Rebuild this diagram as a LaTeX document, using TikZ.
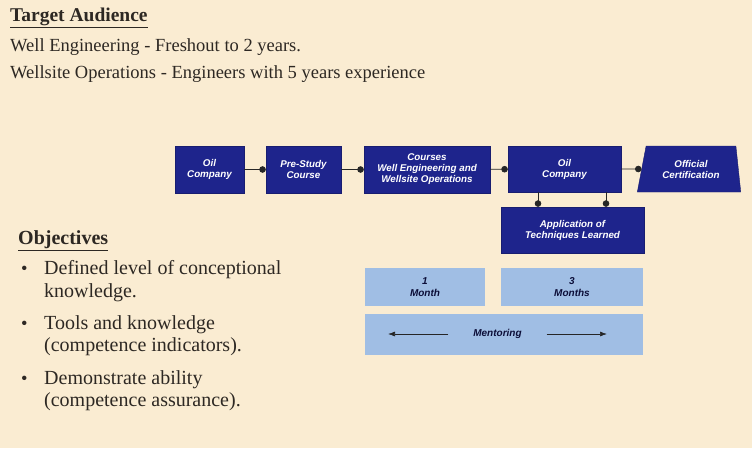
\documentclass[tikz,border=0pt]{standalone}
\usepackage{fontspec}
\setmainfont{Liberation Serif}
\newfontfamily\boxfont{Liberation Sans}
\usepackage{tikz}
\usetikzlibrary{shapes.geometric,arrows.meta}

\definecolor{cream}{RGB}{250,236,210}
\definecolor{navy}{RGB}{30,36,140}
\definecolor{paleblue}{RGB}{160,190,228}
\definecolor{textgray}{RGB}{45,40,35}

\begin{document}
\begin{tikzpicture}[x=1pt, y=-1pt,
    darkbox/.style={rectangle, fill=navy, draw=navy!80!black, text=white, align=center,
      font=\boxfont\bfseries\itshape\fontsize{9.8}{11}\selectfont, inner sep=1pt},
    lightbox/.style={rectangle, fill=paleblue, draw=none, text=navy!40!black, align=center,
      font=\boxfont\bfseries\itshape\fontsize{10}{11.5}\selectfont, inner sep=1pt},
    plain/.style={anchor=west, inner sep=0pt, text=textgray, font=\fontsize{18.5}{21}\selectfont},
    obtxt/.style={plain, font=\fontsize{20}{23}\selectfont},
    link/.style={draw=black!85, line width=0.7pt, -{Circle[length=6.5pt]}}]

    % sfondo
    \fill[cream] (0,0) rectangle (752,448);
    \useasboundingbox (0,0) rectangle (752,448);

    % Testo in alto
    \node[plain, font=\bfseries\fontsize{19.5}{21}\selectfont] (tgt) at (10,18) {\underline{Target Audience}};
    \node[plain] (we) at (10,47) {Well Engineering - Freshout to 2 years.};
    \node[plain] (wo) at (10,74) {Wellsite Operations - Engineers with 5 years experience};

    % Posizioni dei nodi
    \node[darkbox, minimum width=69, minimum height=47] (oil) at (209.5,169.5) {Oil\\Company};
    \node[darkbox, minimum width=75, minimum height=47] (pre) at (303.5,169.5) {Pre-Study\\Course};
    \node[darkbox, minimum width=126, minimum height=47] (crs) at (427,169.5) {Courses\\Well Engineering and\\Wellsite Operations};
    \node[darkbox, minimum width=113, minimum height=46] (oiltwo) at (564.5,169) {Oil\\Company};
    \node[darkbox, trapezium, trapezium stretches=true, trapezium left angle=74, trapezium right angle=81,
      minimum width=104, minimum height=46] (cert) at (691,169) {Official\\Certification};
    \node[darkbox, minimum width=143, minimum height=46] (app) at (572.5,230) {Application of\\Techniques Learned};

    \node[lightbox, minimum width=120, minimum height=38] (mone) at (425,287) {1\\Month};
    \node[lightbox, minimum width=142, minimum height=38] (mthree) at (572,287) {3\\Months};
    \node[lightbox, minimum width=278, minimum height=41] (ment) at (504,334.5) {};
    \node[lightbox, fill=none, minimum width=98] (mlbl) at (497.5,334) {Mentoring};
    \coordinate (lend) at (388,334);
    \coordinate (rend) at (607,334);

    % Archi
    \draw[link] (oil) -- (pre);
    \draw[link] (pre) -- (crs);
    \draw[link] (crs) -- (oiltwo);
    \draw[link] (oiltwo) -- (cert);
    \draw[link] (oiltwo.south -| 538,0) -- (app.north -| 538,0);
    \draw[link] (oiltwo.south -| 606,0) -- (app.north -| 606,0);
    \draw[draw=black!85, line width=0.7pt, -{Latex[length=7pt,width=5pt]}] (mlbl.west) -- (lend);
    \draw[draw=black!85, line width=0.7pt, -{Latex[length=7pt,width=5pt]}] (mlbl.east) -- (rend);

    % Obiettivi
    \node[obtxt, font=\bfseries\fontsize{20}{23}\selectfont] (obj) at (18,241) {\underline{Objectives}};
    \foreach \y in {270,325,380}
      \node[plain] at (21,\y) {\textbullet};
    \node[obtxt] (oa) at (44,270) {Defined level of conceptional};
    \node[obtxt] (ob) at (44,293) {knowledge.};
    \node[obtxt] (oc) at (44,325) {Tools and knowledge};
    \node[obtxt] (od) at (44,347) {(competence indicators).};
    \node[obtxt] (oe) at (44,380) {Demonstrate ability};
    \node[obtxt] (of) at (44,402) {(competence assurance).};
\end{tikzpicture}
\end{document}
